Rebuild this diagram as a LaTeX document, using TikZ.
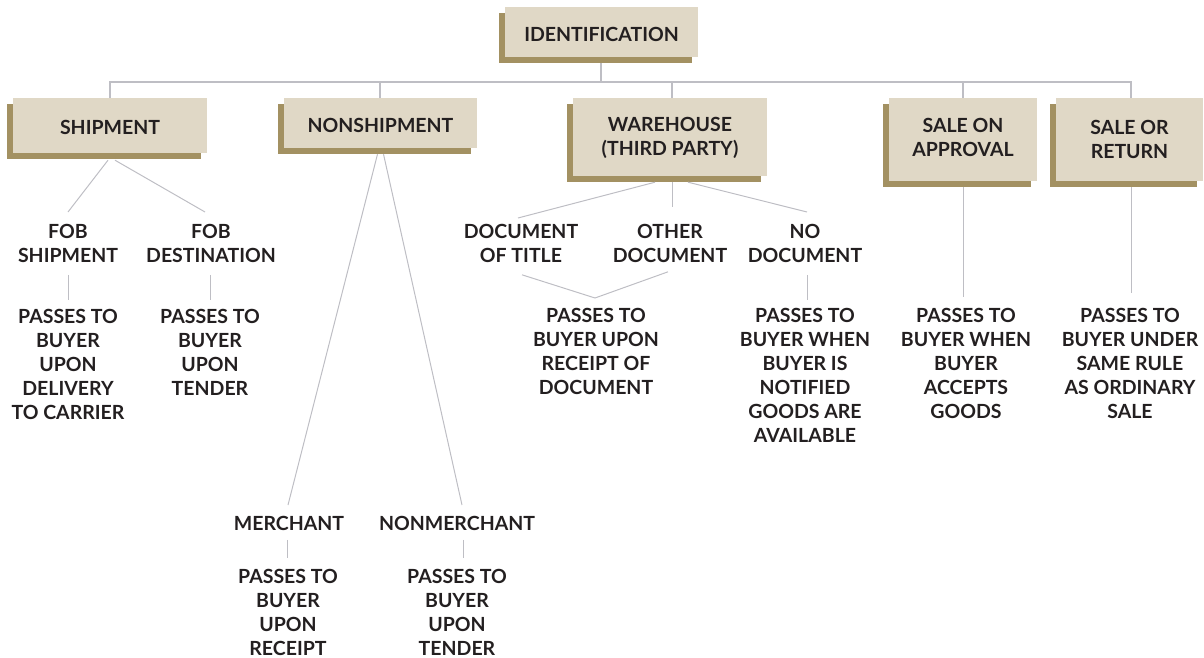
\documentclass[tikz,border=0pt]{standalone}
\usepackage{fontspec}
\setmainfont{Lato}
\usetikzlibrary{calc,shadows}
\definecolor{boxfill}{HTML}{E0D8C6}
\definecolor{boxshadow}{HTML}{A39162}
\definecolor{linegray}{HTML}{BEBEC4}
\definecolor{textcol}{HTML}{231F20}
\newcommand{\upstrut}[1]{\rule{0pt}{#1}}
\newcommand{\dnstrut}[1]{\rule[-#1]{0pt}{#1}}
\begin{document}
\begin{tikzpicture}[x=1pt,y=-1pt,
  txt/.style={font=\fontsize{19.5}{24}\selectfont\bfseries, text=textcol},
  box/.style={txt, fill=boxfill, inner sep=0pt, align=center,
    general shadow={fill=boxshadow, shadow xshift=-6pt, shadow yshift=-6pt}},
  lab/.style={txt, align=center, inner sep=0pt, anchor=north},
  tree/.style={draw=linegray, line width=1.6pt},
  conn/.style={draw=linegray, line width=1pt}]
\useasboundingbox (0,0) rectangle (1204,658);

% top-level boxes
\node[box, minimum width=193pt, minimum height=50pt] (ident) at (601.5,32) {\upstrut{20pt}IDENTIFICATION};
\node[box, minimum width=194pt, minimum height=55pt] (ship) at (110,125.5) {\upstrut{18pt}SHIPMENT};
\node[box, minimum width=193pt, minimum height=50pt] (nonship) at (380.5,123) {\upstrut{20pt}NONSHIPMENT};
\node[box, minimum width=194pt, minimum height=78pt] (ware) at (670,137) {\upstrut{17pt}WAREHOUSE\\(THIRD PARTY)};
\node[box, minimum width=148pt, minimum height=83pt] (approval) at (963,139.5) {SALE ON\\APPROVAL\dnstrut{4pt}};
\node[box, minimum width=147pt, minimum height=83pt] (ret) at (1129.5,139.5) {SALE OR\\RETURN\dnstrut{1pt}};

% second-level labels
\node[lab] (fobs) at (68,224) {FOB\\SHIPMENT};
\node[lab] (fobd) at (211,224) {FOB\\DESTINATION};
\node[lab] (pfobs) at (68,309) {PASSES TO\\BUYER\\UPON\\DELIVERY\\TO CARRIER};
\node[lab] (pfobd) at (210,309) {PASSES TO\\BUYER\\UPON\\TENDER};
\node[lab] (merch) at (289,516) {MERCHANT};
\node[lab] (nonmerch) at (457,516) {NONMERCHANT};
\node[lab] (pmerch) at (288,569) {PASSES TO\\BUYER\\UPON\\RECEIPT};
\node[lab] (pnonmerch) at (457,569) {PASSES TO\\BUYER\\UPON\\TENDER};
\node[lab] (doctitle) at (521,224) {DOCUMENT\\OF TITLE};
\node[lab] (otherdoc) at (670,224) {OTHER\\DOCUMENT};
\node[lab] (nodoc) at (805,224) {NO\\DOCUMENT};
\node[lab] (pdoc) at (596,308) {PASSES TO\\BUYER UPON\\RECEIPT OF\\DOCUMENT};
\node[lab] (pnodoc) at (805,308) {PASSES TO\\BUYER WHEN\\BUYER IS\\NOTIFIED\\GOODS ARE\\AVAILABLE};
\node[lab] (papp) at (966,308) {PASSES TO\\BUYER WHEN\\BUYER\\ACCEPTS\\GOODS};
\node[lab] (pret) at (1130,308) {PASSES TO\\BUYER UNDER\\SAME RULE\\AS ORDINARY\\SALE};

% main tree
\coordinate (bus) at (601,82);
\path[tree] ($(ident.south)+(-0.5,6)$) -- (bus);
\path[tree] (bus) -| (ship.north);
\path[tree] (bus) -| ($(nonship.north)+(-0.5,0)$);
\path[tree] (bus) -| ($(ware.north)+(2,0)$);
\path[tree] (bus) -| (approval.north);
\path[tree] (bus) -| ($(ret.north)+(1.5,0)$);

% shipment
\path[conn] ($(ship.south)+(-2,7)$) -- ($(fobs.north)+(0,-12)$);
\path[conn] ($(ship.south)+(5,7)$) -- ($(fobd.north)+(-6,-12)$);
\path[conn] ($(fobs.south)+(0,12)$) -- ($(pfobs.north)+(0,-9)$);
\path[conn] ($(fobd.south)+(-1,12)$) -- ($(pfobd.north)+(0,-9)$);

% nonshipment
\path[conn] ($(nonship.south)+(-3,6)$) -- ($(merch.north)+(-1,-11)$);
\path[conn] ($(nonship.south)+(3,6)$) -- ($(nonmerch.north)+(5,-11)$);
\path[conn] ($(merch.south)+(-2,9)$) -- ($(pmerch.north)+(-1,-11)$);
\path[conn] ($(nonmerch.south)+(6,9)$) -- ($(pnonmerch.north)+(6,-11)$);

% warehouse
\path[conn] ($(ware.south)+(-15,6)$) -- ($(doctitle.north)+(-3,-6)$);
\path[conn] ($(ware.south)+(2,6)$) -- ($(otherdoc.north)+(2,-17)$);
\path[conn] ($(ware.south)+(18,6)$) -- ($(nodoc.north)+(2,-12)$);
\path[conn] ($(doctitle.south)+(1,12)$) -- ($(pdoc.north)+(-1,-10)$);
\path[conn] ($(otherdoc.south)+(-2,9)$) -- ($(pdoc.north)+(-1,-10)$);
\path[conn] ($(nodoc.south)+(2,12)$) -- ($(pnodoc.north)+(2,-8)$);

% sale on approval / sale or return
\path[conn] ($(approval.south)+(0,6)$) -- ($(papp.north)+(-3,-11)$);
\path[conn] ($(ret.south)+(1.5,6)$) -- ($(pret.north)+(1,-15)$);
\end{tikzpicture}
\end{document}
